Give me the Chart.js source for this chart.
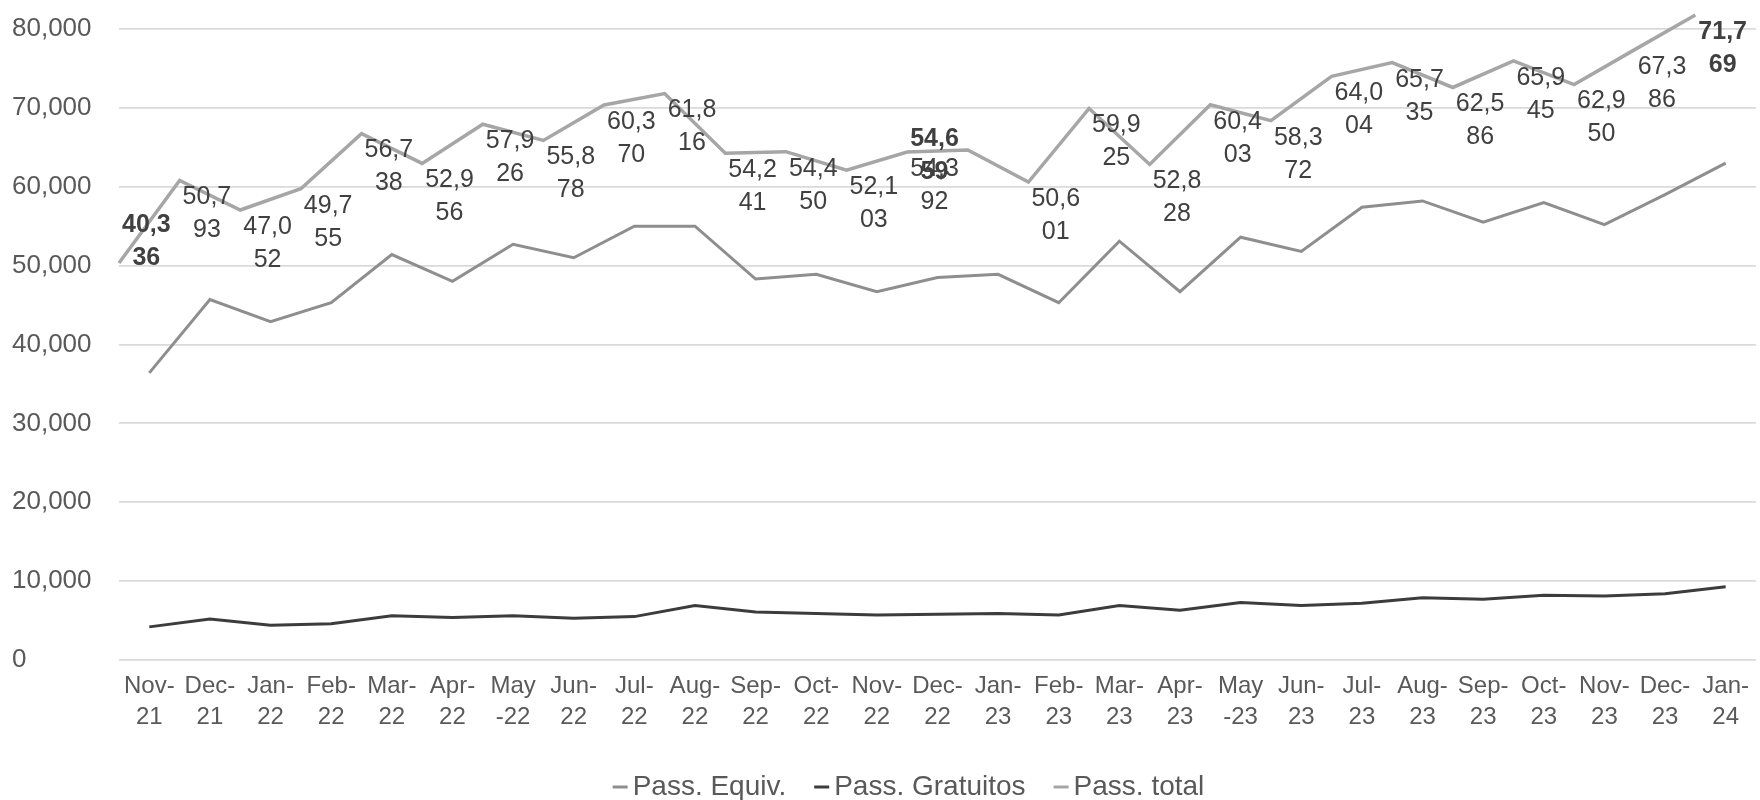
<!DOCTYPE html>
<html lang="pt">
<head>
<meta charset="utf-8">
<title>Passageiros</title>
<script src="https://cdn.jsdelivr.net/npm/chart.js@4.4.1/dist/chart.umd.min.js"></script>
<style>
  html, body { margin: 0; padding: 0; background: #fff; }
  #contenedor { width: 1760px; height: 800px; position: relative; }
</style>
</head>
<body>
<div id="contenedor"><canvas id="graficoPasajeros"></canvas></div>
<script>
// Meses del eje X, ya partidos en dos líneas como en el rótulo original
const meses = [
  ["Nov-", "21"], ["Dec-", "21"], ["Jan-", "22"], ["Feb-", "22"], ["Mar-", "22"], ["Apr-", "22"],
  ["May", "-22"], ["Jun-", "22"], ["Jul-", "22"], ["Aug-", "22"], ["Sep-", "22"], ["Oct-", "22"],
  ["Nov-", "22"], ["Dec-", "22"], ["Jan-", "23"], ["Feb-", "23"], ["Mar-", "23"], ["Apr-", "23"],
  ["May", "-23"], ["Jun-", "23"], ["Jul-", "23"], ["Aug-", "23"], ["Sep-", "23"], ["Oct-", "23"],
  ["Nov-", "23"], ["Dec-", "23"], ["Jan-", "24"]
];

// Series (pasajeros por mes)
const pasajerosEquiv = [
  36400, 45700, 42900, 45300, 51400, 48000, 52700, 51000, 55000, 55000, 48300, 48900, 46700, 48500,
  48900, 45300, 53100, 46700, 53600, 51800, 57400, 58200, 55500, 58000, 55200, 59000, 63000
];
const pasajerosGratuitos = [
  4200, 5200, 4400, 4600, 5600, 5400, 5600, 5300, 5500, 6900, 6100, 5900, 5700, 5800,
  5900, 5700, 6900, 6300, 7300, 6900, 7200, 7900, 7700, 8200, 8100, 8400, 9300
];
const pasajerosTotal = [
  40336, 50793, 47052, 49755, 56738, 52956, 57926, 55878, 60370, 61816, 54241, 54450, 52103, 54392,
  54659, 50601, 59925, 52828, 60403, 58372, 64004, 65735, 62586, 65945, 62950, 67386, 71769
];

// Marcas del eje Y
const marcasY = [0, 10000, 20000, 30000, 40000, 50000, 60000, 70000, 80000];

const fuente = "'Liberation Sans', Arial, sans-serif";
const colorTexto = "#595959";

// Ajustes de algunas etiquetas (dx en categorías, dy en píxeles)
const ajusteEtiquetas = {
  0: { dx: 0, dy: -55, negrita: true },
  14: { dx: -1, dy: -28, negrita: true },
  26: { dx: 0, dy: 0, negrita: true }
};

// Etiquetas con el total, en dos líneas, a la derecha de cada punto
const etiquetasTotal = {
  id: "etiquetasTotal",
  afterDatasetsDraw(chart) {
    const ctx = chart.ctx;
    const meta = chart.getDatasetMeta(2);
    const ejeX = chart.scales.x;
    const paso = ejeX.getPixelForValue(1) - ejeX.getPixelForValue(0);
    ctx.save();
    ctx.textAlign = "center";
    ctx.textBaseline = "middle";
    ctx.fillStyle = "#404040";
    pasajerosTotal.forEach((valor, i) => {
      const punto = meta.data[i];
      const ajuste = ajusteEtiquetas[i] || { dx: 0, dy: 0 };
      const x = ejeX.getPixelForValue(i) - 3 + ajuste.dx * paso;
      const y = punto.y + 17 + ajuste.dy;
      const texto = valor.toLocaleString("en-US");
      ctx.font = (ajuste.negrita ? "bold " : "") + "25px " + fuente;
      ctx.fillText(texto.slice(0, 4), x, y);
      ctx.fillText(texto.slice(4), x, y + 33);
    });
    ctx.restore();
  }
};

// Leyenda dibujada a mano debajo del eje X
const leyendaInferior = {
  id: "leyendaInferior",
  afterDraw(chart) {
    const ctx = chart.ctx;
    const area = chart.chartArea;
    const linea = 15, hueco = 5, separacion = 28;
    ctx.save();
    ctx.font = "28px " + fuente;
    const items = chart.data.datasets.map(d => ({
      texto: d.label,
      color: d.borderColor,
      ancho: ctx.measureText(d.label).width
    }));
    const total = items.reduce((s, it) => s + linea + hueco + it.ancho, 0) + separacion * (items.length - 1);
    let x = (area.left + area.right) / 2 - 29 - total / 2;
    const y = 787;
    ctx.textBaseline = "middle";
    ctx.textAlign = "left";
    items.forEach(it => {
      ctx.strokeStyle = it.color;
      ctx.lineWidth = 3;
      ctx.beginPath();
      ctx.moveTo(x, y);
      ctx.lineTo(x + linea, y);
      ctx.stroke();
      x += linea + hueco;
      ctx.fillStyle = colorTexto;
      ctx.fillText(it.texto, x, y);
      x += it.ancho + separacion;
    });
    ctx.restore();
  }
};

const ctx = document.getElementById("graficoPasajeros").getContext("2d");
new Chart(ctx, {
  type: "line",
  data: {
    labels: meses,
    datasets: [
      {
        label: "Pass. Equiv.",
        data: pasajerosEquiv,
        borderColor: "#8e8e8e",
        borderWidth: 3,
        pointRadius: 0,
        tension: 0,
        xAxisID: "x",
        yAxisID: "y"
      },
      {
        label: "Pass. Gratuitos",
        data: pasajerosGratuitos,
        borderColor: "#3c3c3c",
        borderWidth: 3,
        pointRadius: 0,
        tension: 0,
        xAxisID: "x",
        yAxisID: "y"
      },
      {
        // El total va en ejes secundarios: desplazado media categoría y una división del eje Y
        label: "Pass. total",
        data: pasajerosTotal,
        borderColor: "#a6a6a6",
        borderWidth: 3.5,
        pointRadius: 0,
        tension: 0,
        clip: false,
        xAxisID: "xTotal",
        yAxisID: "yTotal"
      }
    ]
  },
  options: {
    responsive: true,
    maintainAspectRatio: false,
    animation: false,
    devicePixelRatio: 1,
    layout: { padding: { top: 29, left: 12, right: 0, bottom: 44 } },
    plugins: {
      legend: { display: false },
      tooltip: { enabled: false }
    },
    scales: {
      x: {
        type: "category",
        offset: true,
        grid: { display: false, drawTicks: false },
        border: { display: false },
        ticks: {
          autoSkip: false,
          maxRotation: 0,
          minRotation: 0,
          padding: 11,
          color: colorTexto,
          font: { family: fuente, size: 24, lineHeight: 1.3 }
        },
        afterFit: function(escala) { escala.height = 96; }
      },
      xTotal: {
        type: "category",
        labels: meses.map(m => m.join("")).concat([""]),
        offset: false,
        display: false
      },
      y: {
        min: marcasY[0],
        max: marcasY[marcasY.length - 1],
        grid: { color: "#dadada", lineWidth: 1.8, drawTicks: false },
        border: { display: false },
        ticks: {
          stepSize: marcasY[1] - marcasY[0],
          crossAlign: "far",
          color: colorTexto,
          font: { family: fuente, size: 26 },
          callback: function(valor) {
            return valor.toLocaleString("en-US");
          }
        },
        afterFit: function(escala) { escala.width = 107; }
      },
      yTotal: {
        min: marcasY[0] - (marcasY[1] - marcasY[0]),
        max: marcasY[marcasY.length - 1] - (marcasY[1] - marcasY[0]),
        display: false
      }
    }
  },
  plugins: [etiquetasTotal, leyendaInferior]
});
</script>
</body>
</html>
